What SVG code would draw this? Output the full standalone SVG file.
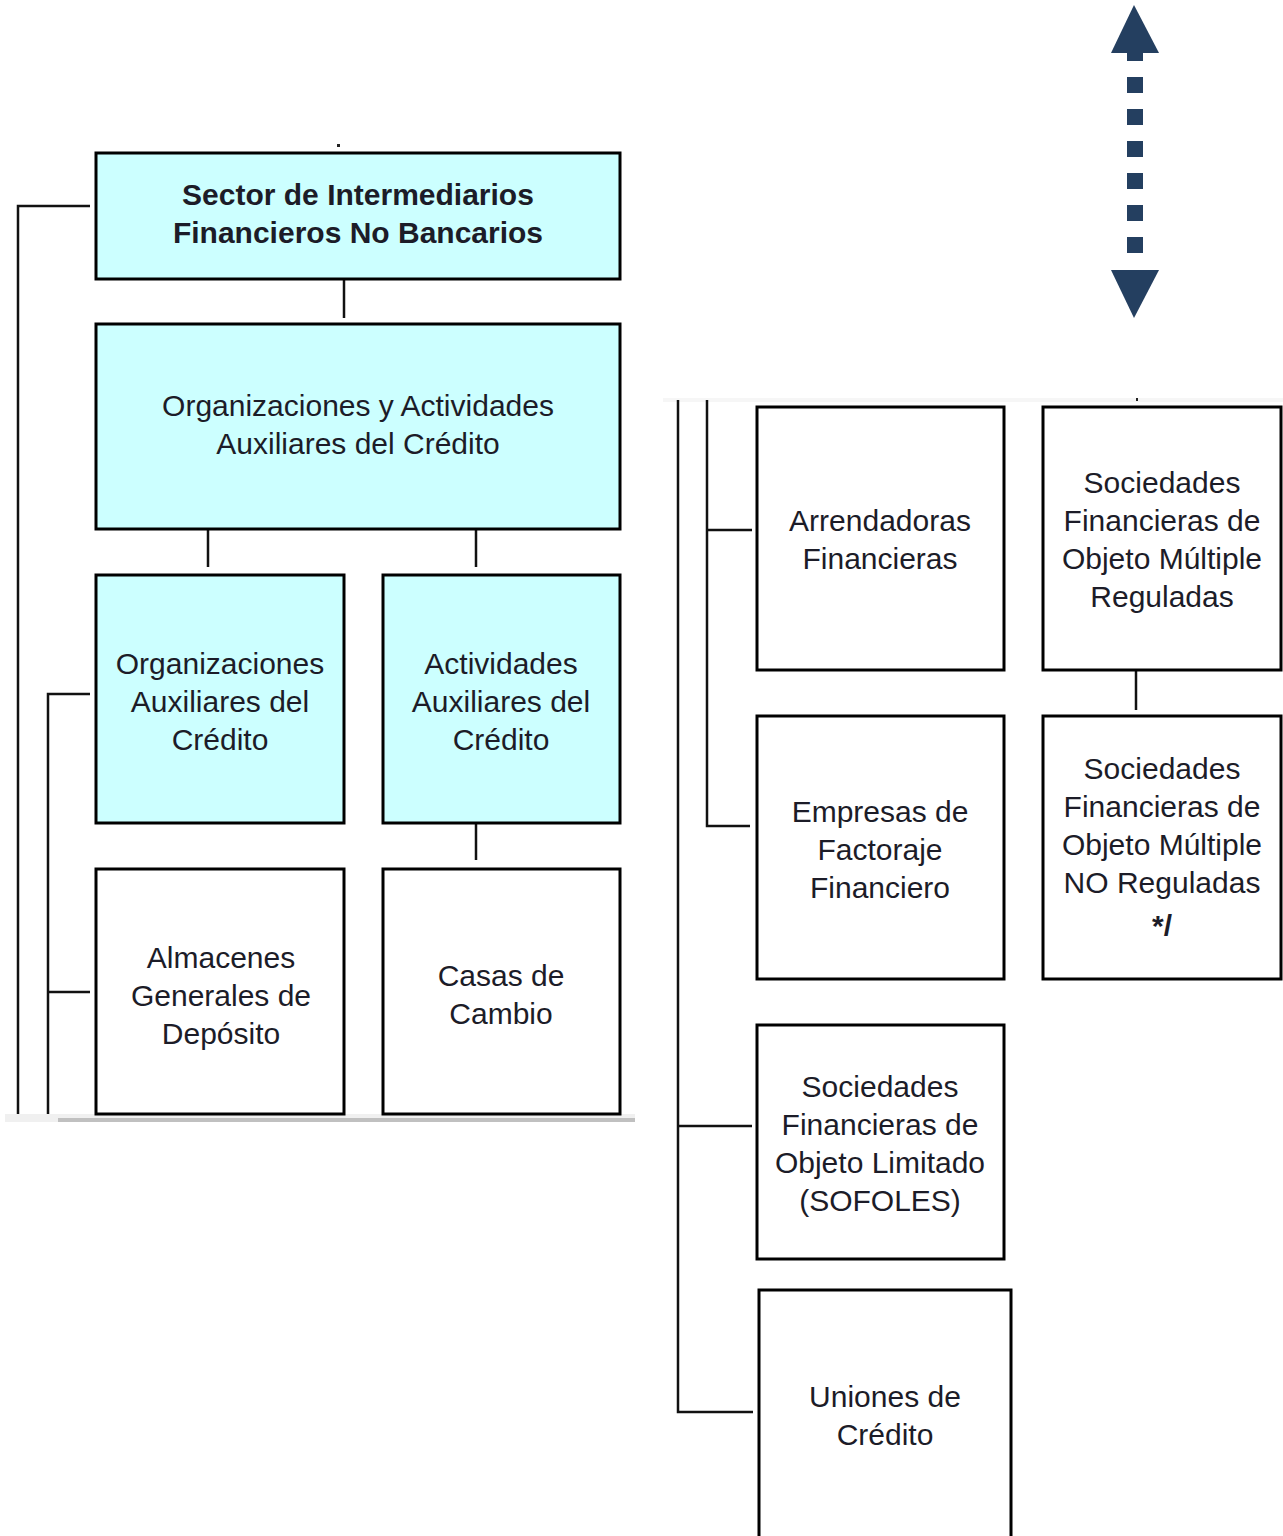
<svg xmlns="http://www.w3.org/2000/svg" width="1283" height="1536" viewBox="0 0 1283 1536">
<style>
.box{stroke:#000;stroke-width:3;}
.cy{fill:#CCFFFF;}
.wh{fill:#fff;}
.t{font-family:"Liberation Sans",Arial,sans-serif;font-size:30px;fill:#1c1c28;text-anchor:middle;}
.b{font-weight:bold;}
.ln{stroke:#111;stroke-width:2.5;fill:none;}
</style>
<rect width="1283" height="1536" fill="#fff"/>
<!-- scan bands -->
<rect x="5" y="1114" width="630" height="8" fill="#f0f0f0"/>
<rect x="58" y="1118" width="577" height="4" fill="#c0c0c0"/>
<rect x="663" y="398" width="620" height="4" fill="#f6f6f6"/>
<!-- double arrow -->
<g id="arrow" fill="#243F60">
<polygon points="1134,5 1159,53 1111,53"/>
<rect x="1127" y="53" width="16" height="8"/>
<rect x="1127" y="77" width="16" height="16"/>
<rect x="1127" y="109" width="16" height="16"/>
<rect x="1127" y="141" width="16" height="16"/>
<rect x="1127" y="173" width="16" height="16"/>
<rect x="1127" y="205" width="16" height="16"/>
<rect x="1127" y="237" width="16" height="16"/>
<polygon points="1111,270 1159,270 1134,318"/>
</g>
<g id="connectors">
<path class="ln" d="M18,1114 V206 H90"/>
<path class="ln" d="M48,1114 V694 H90 M48,992 H90"/>
<path class="ln" d="M344,273 V318"/>
<path class="ln" d="M208,523 V567 M476,523 V567"/>
<path class="ln" d="M476,817 V860"/>
<path class="ln" d="M678,400 V1412 H753 M678,1126 H752"/>
<path class="ln" d="M707,400 V826 H750 M707,530 H752"/>
<path class="ln" d="M1136,664 V710"/>
<rect x="337" y="144" width="3" height="3" fill="#222"/>
<rect x="475" y="1109" width="3" height="4" fill="#222"/>
<rect x="1136" y="398" width="2" height="3" fill="#222"/>
</g>
<g id="n1"><rect class="box cy" x="96" y="153" width="524" height="126"/>
<text class="t b" x="358" y="205">Sector de Intermediarios</text>
<text class="t b" x="358" y="243">Financieros No Bancarios</text></g>
<g id="n2"><rect class="box cy" x="96" y="324" width="524" height="205"/>
<text class="t" x="358" y="416">Organizaciones y Actividades</text>
<text class="t" x="358" y="454">Auxiliares del Crédito</text></g>
<g id="n3"><rect class="box cy" x="96" y="575" width="248" height="248"/>
<text class="t" x="220" y="674">Organizaciones</text>
<text class="t" x="220" y="712">Auxiliares del</text>
<text class="t" x="220" y="750">Crédito</text></g>
<g id="n4"><rect class="box cy" x="383" y="575" width="237" height="248"/>
<text class="t" x="501" y="674">Actividades</text>
<text class="t" x="501" y="712">Auxiliares del</text>
<text class="t" x="501" y="750">Crédito</text></g>
<g id="n5"><rect class="box wh" x="96" y="869" width="248" height="245"/>
<text class="t" x="221" y="968">Almacenes</text>
<text class="t" x="221" y="1006">Generales de</text>
<text class="t" x="221" y="1044">Depósito</text></g>
<g id="n6"><rect class="box wh" x="383" y="869" width="237" height="245"/>
<text class="t" x="501" y="986">Casas de</text>
<text class="t" x="501" y="1024">Cambio</text></g>
<g id="n7"><rect class="box wh" x="757" y="407" width="247" height="263"/>
<text class="t" x="880" y="531">Arrendadoras</text>
<text class="t" x="880" y="569">Financieras</text></g>
<g id="n8"><rect class="box wh" x="1043" y="407" width="238" height="263"/>
<text class="t" x="1162" y="493">Sociedades</text>
<text class="t" x="1162" y="531">Financieras de</text>
<text class="t" x="1162" y="569">Objeto Múltiple</text>
<text class="t" x="1162" y="607">Reguladas</text></g>
<g id="n9"><rect class="box wh" x="757" y="716" width="247" height="263"/>
<text class="t" x="880" y="822">Empresas de</text>
<text class="t" x="880" y="860">Factoraje</text>
<text class="t" x="880" y="898">Financiero</text></g>
<g id="n10"><rect class="box wh" x="1043" y="716" width="238" height="263"/>
<text class="t" x="1162" y="779">Sociedades</text>
<text class="t" x="1162" y="817">Financieras de</text>
<text class="t" x="1162" y="855">Objeto Múltiple</text>
<text class="t" x="1162" y="893">NO Reguladas</text>
<text class="t b" x="1162" y="936">*/</text></g>
<g id="n11"><rect class="box wh" x="757" y="1025" width="247" height="234"/>
<text class="t" x="880" y="1097">Sociedades</text>
<text class="t" x="880" y="1135">Financieras de</text>
<text class="t" x="880" y="1173">Objeto Limitado</text>
<text class="t" x="880" y="1211">(SOFOLES)</text></g>
<g id="n12"><rect class="box wh" x="759" y="1290" width="252" height="260"/>
<text class="t" x="885" y="1407">Uniones de</text>
<text class="t" x="885" y="1445">Crédito</text></g>
</svg>
